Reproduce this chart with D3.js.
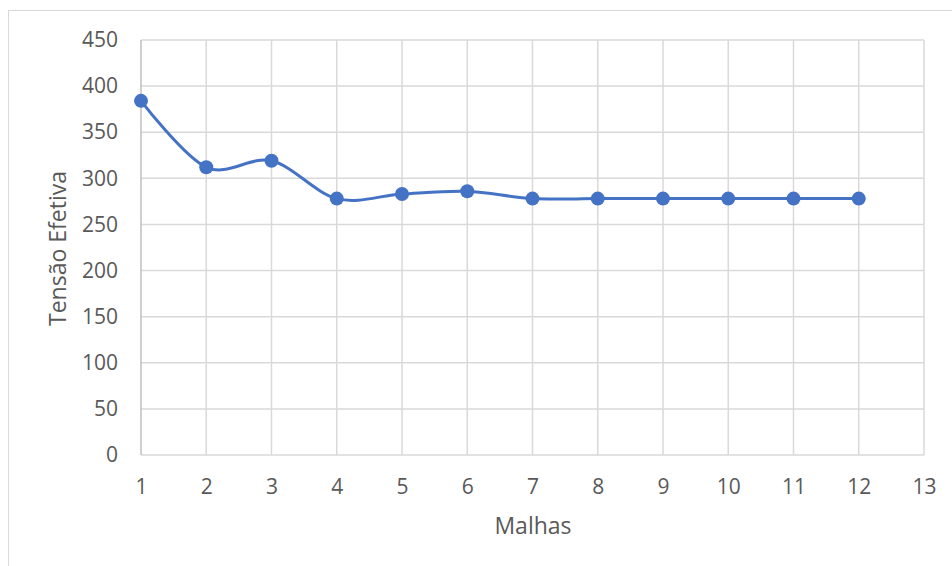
<!DOCTYPE html>
<html>
<head>
<meta charset="utf-8">
<script src="https://cdn.jsdelivr.net/npm/d3@7"></script>
<style>
  html, body { margin: 0; padding: 0; background: #fff; }
  svg { display: block; }
  text { font-family: "Open Sans", "Noto Sans", sans-serif; fill: #595959; }
</style>
</head>
<body>
<script>
// Mesh refinement study: effective stress per mesh
const meshes = [1, 2, 3, 4, 5, 6, 7, 8, 9, 10, 11, 12];
const stress = [384, 312, 319, 278, 283, 286, 278, 278, 278, 278, 278, 278];
const xTicks = [1, 2, 3, 4, 5, 6, 7, 8, 9, 10, 11, 12, 13];
const yTicks = [0, 50, 100, 150, 200, 250, 300, 350, 400, 450];
const xTitle = "Malhas";
const yTitle = "Tensão Efetiva";

const W = 952, H = 566;
const plot = { left: 141, right: 924, top: 40, bottom: 455 };

const svg = d3.select("body").append("svg")
  .attr("width", W).attr("height", H);

// chart frame
svg.append("rect")
  .attr("x", 8.5).attr("y", 10.5)
  .attr("width", W + 10).attr("height", H + 10)
  .attr("fill", "#fff").attr("stroke", "#d9d9d9").attr("stroke-width", 1);

const x = d3.scaleLinear().domain([1, 13]).range([plot.left, plot.right]);
const y = d3.scaleLinear().domain([0, 450]).range([plot.bottom, plot.top]);

// gridlines
const grid = svg.append("g");
grid.selectAll("line.h").data(yTicks).join("line")
  .attr("x1", plot.left).attr("x2", plot.right)
  .attr("y1", d => y(d)).attr("y2", d => y(d))
  .attr("stroke", "#d9d9d9").attr("stroke-width", 1.5);
grid.selectAll("line.v").data(xTicks).join("line")
  .attr("y1", plot.top).attr("y2", plot.bottom)
  .attr("x1", d => x(d)).attr("x2", d => x(d))
  .attr("stroke", d => d === 1 ? "#bfbfbf" : "#d9d9d9").attr("stroke-width", 1.5);

// axes (labels only; lines drawn as gridlines)
const yAxis = svg.append("g")
  .attr("transform", `translate(${plot.left},0)`)
  .call(d3.axisLeft(y).tickValues(yTicks).tickSize(0).tickPadding(23));
yAxis.select(".domain").remove();
yAxis.selectAll("text").style("font-size", "21px").attr("fill", "#595959");

const xAxis = svg.append("g")
  .attr("transform", `translate(0,${plot.bottom})`)
  .call(d3.axisBottom(x).tickValues(xTicks).tickFormat(d3.format("d")).tickSize(0).tickPadding(24));
xAxis.select(".domain").remove();
xAxis.selectAll("text").style("font-size", "21px").attr("fill", "#595959");

// axis titles
svg.append("text")
  .attr("x", 533).attr("y", 534)
  .attr("text-anchor", "middle").style("font-size", "23px")
  .text(xTitle);
svg.append("text")
  .attr("transform", `translate(66,${(plot.top + plot.bottom) / 2 + 1}) rotate(-90)`)
  .attr("text-anchor", "middle").style("font-size", "23px")
  .text(yTitle);

// smoothed series line
const pts = meshes.map((m, i) => [m, stress[i]]);
const line = d3.line()
  .x(d => x(d[0])).y(d => y(d[1]))
  .curve(d3.curveCardinal.tension(0));
svg.append("path")
  .datum(pts)
  .attr("d", line)
  .attr("fill", "none").attr("stroke", "#4472c4")
  .attr("stroke-width", 3).attr("stroke-linecap", "round");

svg.append("g").selectAll("circle").data(pts).join("circle")
  .attr("cx", d => x(d[0])).attr("cy", d => y(d[1]))
  .attr("r", 7).attr("fill", "#4472c4");
</script>
</body>
</html>
